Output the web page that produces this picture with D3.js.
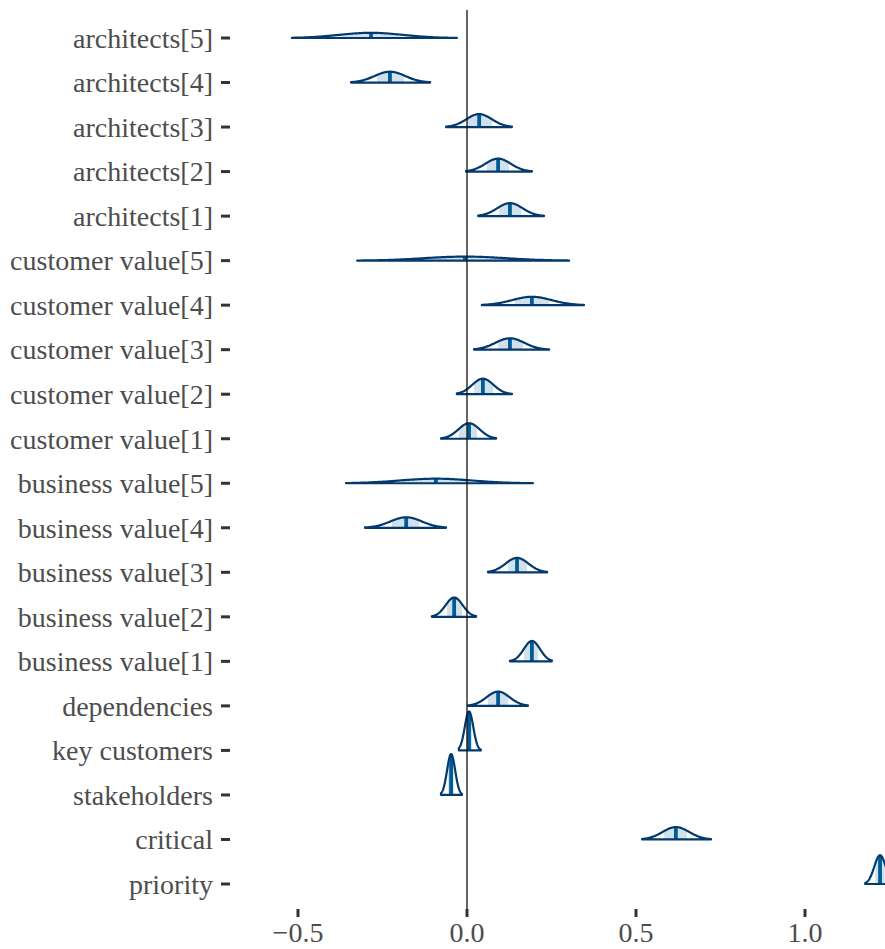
<!DOCTYPE html>
<html>
<head>
<meta charset="utf-8">
<script src="https://cdn.jsdelivr.net/npm/d3@7"></script>
<style>
  body { margin: 0; background: #fff; }
  svg { display: block; }
</style>
</head>
<body>
<svg id="chart"></svg>
<script>
// parameter names, top row first
let params = ["architects[5]", "architects[4]", "architects[3]", "architects[2]", "architects[1]",
    "customer value[5]", "customer value[4]", "customer value[3]", "customer value[2]", "customer value[1]",
    "business value[5]", "business value[4]", "business value[3]", "business value[2]", "business value[1]",
    "dependencies", "key customers", "stakeholders", "critical", "priority"];

// posterior medians
let medians = [-0.284, -0.228, 0.036, 0.092, 0.127,
    -0.006, 0.192, 0.127, 0.047, 0.006,
    -0.092, -0.180, 0.148, -0.038, 0.192,
    0.092, 0.006, -0.047, 0.618, 1.222];

// inner interval bounds
let innerLo = [-0.370, -0.266, 0.000, 0.059, 0.095,
    -0.121, 0.142, 0.092, 0.021, -0.024,
    -0.190, -0.222, 0.121, -0.059, 0.169,
    0.062, -0.002, -0.056, 0.583, 1.208];
let innerHi = [-0.200, -0.186, 0.074, 0.124, 0.160,
    0.107, 0.243, 0.166, 0.077, 0.030,
    0.010, -0.142, 0.178, -0.015, 0.210,
    0.121, 0.015, -0.039, 0.651, 1.236];

// outer interval bounds
let outerLo = [-0.518, -0.343, -0.062, -0.003, 0.033,
    -0.325, 0.044, 0.021, -0.030, -0.077,
    -0.358, -0.302, 0.062, -0.104, 0.127,
    0.003, -0.024, -0.077, 0.518, 1.178];
let outerHi = [-0.030, -0.109, 0.133, 0.192, 0.228,
    0.302, 0.346, 0.243, 0.133, 0.086,
    0.195, -0.062, 0.237, 0.027, 0.251,
    0.180, 0.041, -0.015, 0.722, 1.266];

let xTicks = [-0.5, 0.0, 0.5, 1.0];

let width = 885, height = 949;
let panel = {left: 230, right: 885, top: 10, bottom: 909};

let colLight = '#d1e1ec', colMid = '#005b96', colDark = '#03396c';

let svg = d3.select('#chart')
    .attr('width', width)
    .attr('height', height);

let xScale = d3.scaleLinear()
    .domain([-0.5, 1.0])
    .range([298, 805]);

let yScale = d3.scalePoint()
    .domain(params)
    .range([38, 884]);

// density -> pixel height
let hScale = d3.scaleLinear()
    .domain([0, 50])
    .range([0, 61]);

svg.append('clipPath')
    .attr('id', 'panel-clip')
    .append('rect')
    .attr('x', panel.left)
    .attr('y', 0)
    .attr('width', panel.right - panel.left)
    .attr('height', panel.bottom);

let plot = svg.append('g').attr('clip-path', 'url(#panel-clip)');

function dens(x, mu, sd) {
    let z = (x - mu) / sd;
    return Math.exp(-0.5 * z * z) / (sd * Math.sqrt(2 * Math.PI));
}

params.forEach(function (p, i) {
    let mu = medians[i];
    // outer interval taken as ~99% of the mass
    let sd = (outerHi[i] - outerLo[i]) / 5.2;
    let pts = d3.range(0, 121).map(function (k) {
        let x = outerLo[i] + (outerHi[i] - outerLo[i]) * k / 120;
        return [x, dens(x, mu, sd)];
    });
    let inner = pts.filter(function (d) { return d[0] > innerLo[i] && d[0] < innerHi[i]; });
    inner.unshift([innerLo[i], dens(innerLo[i], mu, sd)]);
    inner.push([innerHi[i], dens(innerHi[i], mu, sd)]);

    let g = plot.append('g')
        .attr('transform', 'translate(0,' + yScale(p) + ')');

    let area = d3.area()
        .x(function (d) { return xScale(d[0]); })
        .y0(0)
        .y1(function (d) { return -hScale(d[1]); });

    g.append('path')
        .attr('d', area(inner))
        .style('fill', colLight);

    g.append('line')
        .attr('x1', xScale(mu)).attr('x2', xScale(mu))
        .attr('y1', 0).attr('y2', -hScale(dens(mu, mu, sd)))
        .style('stroke', colMid)
        .style('stroke-width', 3.8);

    let outline = pts.concat([[outerHi[i], 0], [outerLo[i], 0]]);
    let line = d3.line()
        .x(function (d) { return xScale(d[0]); })
        .y(function (d) { return -hScale(d[1]); });

    g.append('path')
        .attr('d', line(outline) + 'Z')
        .style('fill', 'none')
        .style('stroke', colDark)
        .style('stroke-width', 2.2)
        .style('stroke-linejoin', 'round');
});

// zero reference line
svg.append('line')
    .attr('x1', xScale(0)).attr('x2', xScale(0))
    .attr('y1', panel.top).attr('y2', panel.bottom)
    .style('stroke', '#111')
    .style('stroke-width', 1.3);

// y axis
let yAxis = svg.append('g');
params.forEach(function (p) {
    yAxis.append('line')
        .attr('x1', 221).attr('x2', 230)
        .attr('y1', yScale(p)).attr('y2', yScale(p))
        .style('stroke', '#333')
        .style('stroke-width', 3);
    yAxis.append('text')
        .attr('x', 213)
        .attr('y', yScale(p))
        .attr('dy', '0.35em')
        .attr('text-anchor', 'end')
        .style('font-family', '"Liberation Serif", serif')
        .style('font-size', '28px')
        .style('fill', '#4d4d4d')
        .text(p);
});

// x axis
let xAxis = svg.append('g');
xTicks.forEach(function (t) {
    xAxis.append('line')
        .attr('x1', xScale(t)).attr('x2', xScale(t))
        .attr('y1', 909).attr('y2', 917)
        .style('stroke', '#333')
        .style('stroke-width', 3);
    xAxis.append('text')
        .attr('x', xScale(t))
        .attr('y', 942)
        .attr('text-anchor', 'middle')
        .style('font-family', '"Liberation Serif", serif')
        .style('font-size', '28px')
        .style('fill', '#4d4d4d')
        .text(d3.format('.1f')(t).replace('-', '\u2212'));
});
</script>
</body>
</html>
